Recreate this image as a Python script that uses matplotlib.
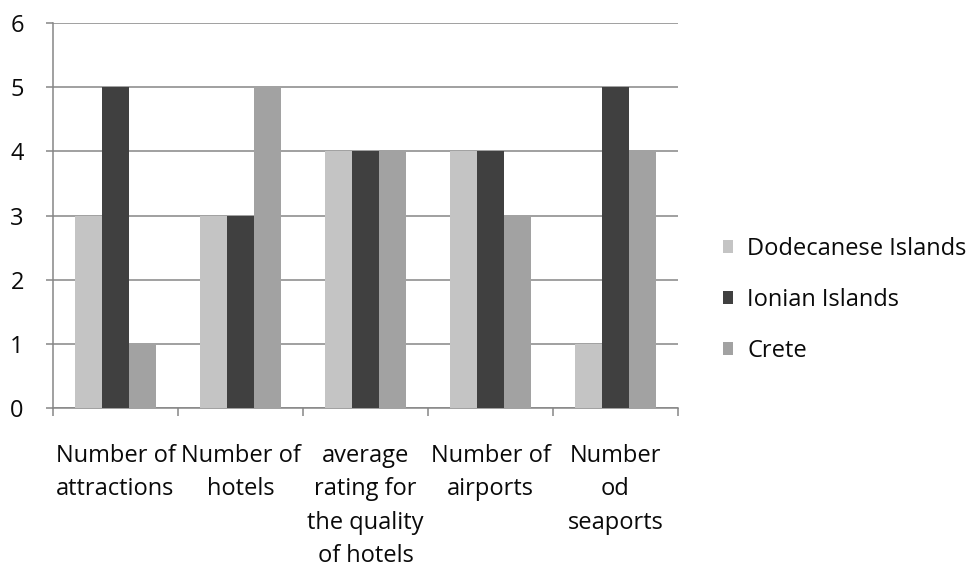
import matplotlib
matplotlib.use("Agg")
import matplotlib.pyplot as plt
import numpy as np

categories = [
    "Number of\nattractions",
    "Number of\nhotels",
    "average\nrating for\nthe quality\nof hotels",
    "Number of\nairports",
    "Number\nod\nseaports",
]
series_names = ["Dodecanese Islands", "Ionian Islands", "Crete"]
dodecanese = [3, 3, 4, 4, 1]
ionian = [5, 3, 4, 4, 5]
crete = [1, 5, 4, 3, 4]
y_ticks = [0, 1, 2, 3, 4, 5, 6]

colors = ["#c4c4c4", "#404040", "#a2a2a2"]
grid_color = "#868686"
text_color = "#0a0a0a"
fs = 17

plt.rcParams["font.family"] = ["Open Sans", "DejaVu Sans"]

fig = plt.figure(figsize=(9.77, 5.67), dpi=100)
ax = fig.add_axes([0.0542, 0.2804, 0.6397, 0.679])

x = np.arange(len(categories))
bw = 0.216
for i, (vals, name, col) in enumerate(zip([dodecanese, ionian, crete], series_names, colors)):
    ax.bar(x + (i - 1) * bw, vals, width=bw, color=col, label=name, zorder=3, linewidth=0)

ax.set_xlim(-0.5, len(categories) - 0.5)
ax.set_ylim(0, 6)
ax.set_yticks(y_ticks)
ax.set_yticklabels([str(v) for v in y_ticks], fontsize=fs, color=text_color)
ax.yaxis.grid(True, color=grid_color, linewidth=1.1, zorder=0)
ax.set_axisbelow(True)

# category boundaries carry the tick marks, labels sit at the centres
ax.set_xticks(np.arange(len(categories) + 1) - 0.5)
ax.set_xticklabels([])
ax.set_xticks(x, minor=True)
ax.set_xticklabels(categories, minor=True, fontsize=fs, color=text_color,
                   linespacing=1.52, multialignment="center")
ax.tick_params(axis="x", which="minor", length=0, pad=26)
ax.tick_params(axis="x", which="major", length=6, width=1.1, color=grid_color, direction="out")
ax.tick_params(axis="y", length=5, width=1.1, color=grid_color, direction="out", pad=16)

for side in ["top", "right"]:
    ax.spines[side].set_visible(False)
for side in ["left", "bottom"]:
    ax.spines[side].set_color(grid_color)
    ax.spines[side].set_linewidth(1.1)

leg = fig.legend(loc="center left", bbox_to_anchor=(0.740, 0.471), frameon=False,
                 fontsize=fs, handlelength=0.43, handleheight=0.43, handletextpad=0.6,
                 labelspacing=1.15, borderpad=0, borderaxespad=0)
for t in leg.get_texts():
    t.set_color(text_color)

fig.savefig("out.png", dpi=100)
